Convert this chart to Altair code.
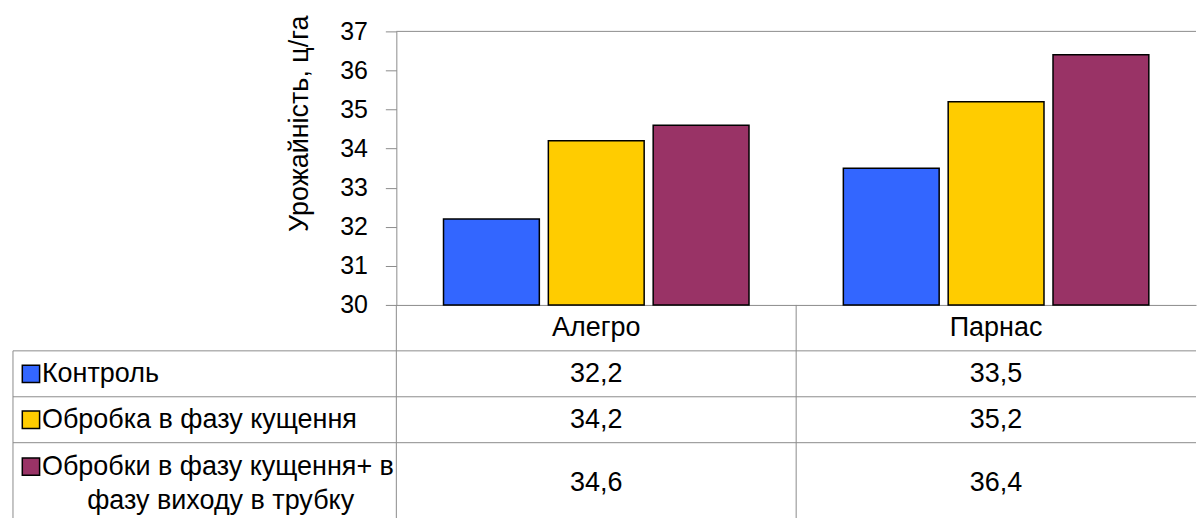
import altair as alt
import pandas as pd

# ---------------- data ----------------
categories = ["Алегро", "Парнас"]
series = [
    "Контроль",
    "Обробка в фазу кущення",
    "Обробки в фазу кущення+ в фазу виходу в трубку",
]
legend_first_lines = ["Контроль", "Обробка в фазу кущення", "Обробки в фазу кущення+ в"]
legend_second_line = "фазу виходу в трубку"
values_control = [32.2, 33.5]
values_tillering = [34.2, 35.2]
values_tube = [34.6, 36.4]
colors = ["#3366FF", "#FFCC00", "#993366"]
y_ticks = [30, 31, 32, 33, 34, 35, 36, 37]
y_title = "Урожайність, ц/га"

FONT = "Liberation Sans, Arial, sans-serif"
LINE = "#8c8c8c"
FS = 27

rows = []
for s, vals in zip(series, [values_control, values_tillering, values_tube]):
    for c, v in zip(categories, vals):
        rows.append({"cat": c, "series": s, "value": v,
                     "label": f"{v:.1f}".replace(".", ",")})
df = pd.DataFrame(rows)

# table geometry in row units (46 px each)
ROW_PX = 46
TABLE_H = 214
H_UNITS = TABLE_H / ROW_PX
row_centers = [1.5, 2.5, 3.87]
legend_first_y = [1.5, 2.5, 3.52]
legend_second_y = 4.26
row_lines = [1, 2, 3]

df["yc"] = df["series"].map(dict(zip(series, row_centers)))
color_scale = alt.Scale(domain=series, range=colors)
y_tab = alt.Scale(domain=[0, H_UNITS], reverse=True, nice=False, zero=False)

# ---------------- top-left blank ----------------
blank = alt.Chart(pd.DataFrame({"t": [""]})).mark_text().encode(
    text="t:N"
).properties(width=384, height=274)

# ---------------- bar chart ----------------
y_scale = alt.Scale(domain=[30, 37], zero=False, nice=False)
y_axis = alt.Axis(values=y_ticks, tickCount=8, grid=False, domainColor=LINE,
                  tickColor=LINE, tickSize=11, labelFont=FONT,
                  labelFontSize=25, labelColor="black", labelPadding=18,
                  labelOverlap=False,
                  title=y_title, titleFont=FONT, titleFontSize=27,
                  titleFontWeight="normal", titleColor="black",
                  titleX=-97, titleY=92, titleAlign="center",
                  titleBaseline="middle")

bars = alt.Chart(df).mark_bar(stroke="black", strokeWidth=1.5).encode(
    x=alt.X("cat:N", sort=categories,
            scale=alt.Scale(paddingInner=0, paddingOuter=0),
            axis=alt.Axis(labels=False, ticks=False, title=None,
                          domainColor=LINE, domainWidth=1)),
    xOffset=alt.XOffset("series:N", sort=series,
                        scale=alt.Scale(paddingInner=0.086, paddingOuter=0.45)),
    y=alt.Y("value:Q", scale=y_scale, axis=y_axis),
    y2=alt.Y2("base:Q"),
    color=alt.Color("series:N", scale=color_scale, legend=None),
).transform_calculate(base="30")
top_line = alt.Chart(pd.DataFrame({"value": [37]})).mark_rule(
    color=LINE, strokeWidth=1).encode(
    y=alt.Y("value:Q", scale=y_scale, axis=y_axis))
bar_chart = alt.layer(bars, top_line).properties(width=801, height=274)

# ---------------- legend column of the table ----------------
leg_df = pd.DataFrame({"series": series, "text": legend_first_lines,
                       "y": legend_first_y})
hl_df = pd.DataFrame({"y": row_lines})

c_lines = alt.Chart(hl_df).mark_rule(color=LINE, strokeWidth=1).encode(
    y=alt.Y("y:Q", scale=y_tab, axis=None))
c_left = alt.Chart(pd.DataFrame({"y": [1], "y2": [H_UNITS]})).mark_rule(
    color=LINE, strokeWidth=1).encode(
    x=alt.value(0), y=alt.Y("y:Q", scale=y_tab, axis=None), y2="y2:Q")
c_squares = alt.Chart(leg_df).mark_square(size=300, opacity=1, stroke="black",
                                          strokeWidth=1.5).encode(
    x=alt.value(18),
    y=alt.Y("y:Q", scale=y_tab, axis=None),
    color=alt.Color("series:N", scale=color_scale, legend=None),
)
c_text = alt.Chart(leg_df).mark_text(align="left", baseline="middle", font=FONT,
                                     fontSize=FS, color="black").encode(
    x=alt.value(29), y=alt.Y("y:Q", scale=y_tab, axis=None), text="text:N")
c_text2 = alt.Chart(pd.DataFrame({"text": [legend_second_line],
                                  "y": [legend_second_y]})).mark_text(
    align="center", baseline="middle", font=FONT, fontSize=FS,
    color="black").encode(
    x=alt.value(208), y=alt.Y("y:Q", scale=y_tab, axis=None), text="text:N")
legend_col = alt.layer(c_lines, c_left, c_squares, c_text, c_text2).properties(
    width=384, height=TABLE_H)

# ---------------- values part of the table ----------------
x_tab = alt.Scale(domain=categories, paddingInner=0, paddingOuter=0)
cat_df = pd.DataFrame({"cat": categories, "y": [0.5, 0.5]})

d_lines = alt.Chart(hl_df).mark_rule(color=LINE, strokeWidth=1).encode(
    y=alt.Y("y:Q", scale=y_tab, axis=None))
d_vlines = alt.Chart(cat_df).mark_rule(color=LINE, strokeWidth=1).encode(
    x=alt.X("cat:N", bandPosition=0, scale=x_tab, axis=None))
d_head = alt.Chart(cat_df).mark_text(baseline="middle", font=FONT, fontSize=FS,
                                     color="black").encode(
    x=alt.X("cat:N", scale=x_tab, axis=None),
    y=alt.Y("y:Q", scale=y_tab, axis=None), text="cat:N")
d_vals = alt.Chart(df).mark_text(baseline="middle", font=FONT, fontSize=FS,
                                 color="black").encode(
    x=alt.X("cat:N", scale=x_tab, axis=None),
    y=alt.Y("yc:Q", scale=y_tab, axis=None), text="label:N")
values_tab = alt.layer(d_lines, d_vlines, d_head, d_vals).properties(
    width=801, height=TABLE_H)

chart = alt.concat(blank, bar_chart, legend_col, values_tab, columns=2,
                   spacing=0, bounds="flush").properties(
    padding={"left": 12, "top": 14, "right": 0, "bottom": 0},
    background="white",
).configure_view(stroke=None)

chart.save("out.html", embed_options={"renderer": "svg", "actions": False})
